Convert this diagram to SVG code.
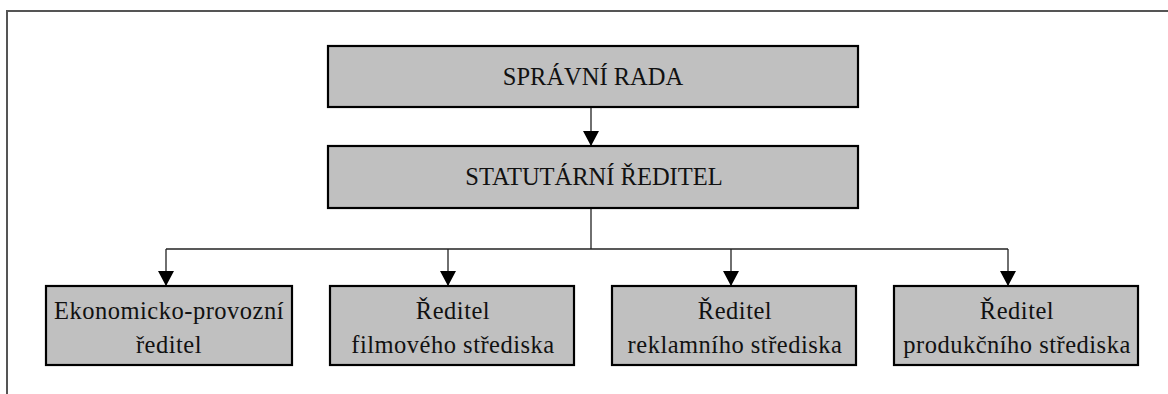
<svg xmlns="http://www.w3.org/2000/svg" width="1168" height="394" viewBox="0 0 1168 394">
  <style>
    .box { fill: #c0c0c0; stroke: #000; stroke-width: 2.2; }
    .lbl { font-size: 24.5px; fill: #111; text-anchor: middle; }
    .sub { letter-spacing: 0.5px; }
    .wire { fill: none; stroke: #222; stroke-width: 1.3; }
    .frame { fill: none; stroke: #555; stroke-width: 2; }
  </style>
  <defs>
    <!-- solid triangular arrowhead, drawn pointing along the line -->
    <marker id="tip" viewBox="0 0 15 16" refX="15" refY="8" markerWidth="15" markerHeight="16" markerUnits="userSpaceOnUse" orient="auto">
      <path d="M0,0 L15,8 L0,16 Z" fill="#000"/>
    </marker>
  </defs>

  <rect width="1168" height="394" fill="#fff"/>
  <!-- page frame -->
  <path class="frame" d="M7,394 V11 H1168"/>

  <!-- connectors -->
  <g id="connectors">
    <line class="wire" x1="591" y1="107" x2="591" y2="146" marker-end="url(#tip)"/>
    <path class="wire" d="M591,208 V249"/>
    <path class="wire" d="M166,249 H1008"/>
    <line class="wire" x1="166" y1="249" x2="166" y2="286" marker-end="url(#tip)"/>
    <line class="wire" x1="448" y1="249" x2="448" y2="286" marker-end="url(#tip)"/>
    <line class="wire" x1="731" y1="249" x2="731" y2="286" marker-end="url(#tip)"/>
    <line class="wire" x1="1008" y1="249" x2="1008" y2="286" marker-end="url(#tip)"/>
  </g>

  <g font-family="'Liberation Serif', 'DejaVu Serif', 'Times New Roman', Times, serif">
    <g id="spravni-rada">
      <rect class="box" x="328" y="46" width="530" height="61"/>
      <text class="lbl" x="593" y="85">SPRÁVNÍ RADA</text>
    </g>

    <g id="statutarni-reditel">
      <rect class="box" x="328" y="146" width="530" height="62"/>
      <text class="lbl" x="594" y="185">STATUTÁRNÍ ŘEDITEL</text>
    </g>

    <g id="ekonomicko-provozni">
      <rect class="box" x="46" y="286" width="246" height="79"/>
      <text class="lbl sub" x="169" y="319">Ekonomicko-provozní</text>
      <text class="lbl sub" x="169" y="353">ředitel</text>
    </g>

    <g id="filmove-stredisko">
      <rect class="box" x="330" y="286" width="244" height="79"/>
      <text class="lbl sub" x="453" y="319">Ředitel</text>
      <text class="lbl sub" x="453" y="353">filmového střediska</text>
    </g>

    <g id="reklamni-stredisko">
      <rect class="box" x="612" y="286" width="244" height="79"/>
      <text class="lbl sub" x="735" y="319">Ředitel</text>
      <text class="lbl sub" x="735" y="353">reklamního střediska</text>
    </g>

    <g id="produkcni-stredisko">
      <rect class="box" x="894" y="286" width="244" height="79"/>
      <text class="lbl sub" x="1017" y="319">Ředitel</text>
      <text class="lbl sub" x="1017" y="353">produkčního střediska</text>
    </g>
  </g>
</svg>
